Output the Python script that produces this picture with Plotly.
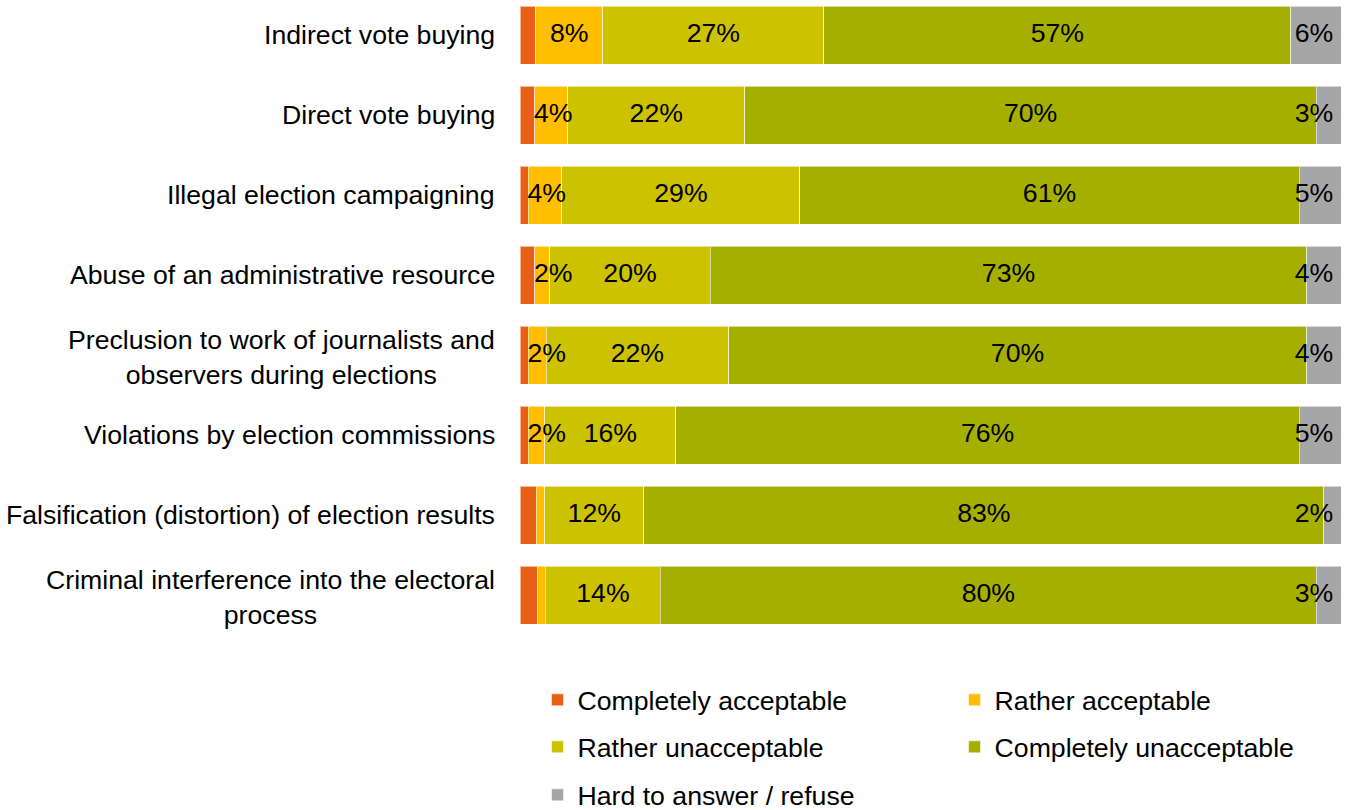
import plotly.graph_objects as go

# Survey categories, top to bottom
categories = [
    "Indirect vote buying",
    "Direct vote buying",
    "Illegal election campaigning",
    "Abuse of an administrative resource",
    "Preclusion to work of journalists and<br>observers during elections",
    "Violations by election commissions",
    "Falsification (distortion) of election results",
    "Criminal interference into the electoral<br>process",
]

# Shares of respondents, % (one list per answer option)
completely_acceptable = [1.9, 1.8, 1.0, 1.8, 1.0, 1.0, 2.0, 2.1]
rather_acceptable = [8.2, 4.0, 4.1, 1.8, 2.2, 2.0, 1.0, 1.0]
rather_unacceptable = [26.9, 21.6, 29.0, 19.6, 22.2, 16.0, 12.1, 14.0]
completely_unacceptable = [56.9, 69.6, 60.8, 72.6, 70.4, 75.9, 82.8, 79.9]
hard_to_answer = [6.1, 3.0, 5.1, 4.2, 4.2, 5.1, 2.1, 3.0]

series_names = [
    "Completely acceptable",
    "Rather acceptable",
    "Rather unacceptable",
    "Completely unacceptable",
    "Hard to answer / refuse",
]
series_values = [
    completely_acceptable,
    rather_acceptable,
    rather_unacceptable,
    completely_unacceptable,
    hard_to_answer,
]
series_colors = ["#E95F17", "#FFBF00", "#CCC200", "#A5AF00", "#A6A6A6"]
series_labelled = [False, True, True, True, True]

FONT = "Liberation Sans, Arial, sans-serif"
FS = 26.67
ypos = list(range(len(categories)))

# Half the width of a two-character label, in axis units, used to keep
# narrow-segment labels from spilling past the bar's start or the chart edge
HALF_LABEL = 2.25
RIGHT_LIMIT = 96.7

fig = go.Figure()

legend_ids = ["legend", "legend2", "legend3", "legend4", "legend5"]
for name, vals, color, leg in zip(series_names, series_values, series_colors, legend_ids):
    fig.add_trace(go.Bar(
        name=name,
        y=ypos,
        x=vals,
        orientation="h",
        marker=dict(color=color, line=dict(color="rgba(255,255,255,0.55)", width=1)),
        hoverinfo="skip",
        legend=leg,
    ))

# Value labels centred on each segment
base = [0.0] * len(categories)
for vals, labelled in zip(series_values, series_labelled):
    xs, ys, txt = [], [], []
    for i, v in enumerate(vals):
        if labelled and v >= 1.5:
            centre = base[i] + v / 2
            centre = min(max(centre, base[i] + HALF_LABEL), RIGHT_LIMIT)
            xs.append(centre)
            ys.append(i)
            txt.append(f"{v:.0f}%")
        base[i] += v
    fig.add_trace(go.Scatter(
        x=xs, y=ys, text=txt, mode="text",
        textfont=dict(family=FONT, size=FS, color="#000000"),
        textposition="middle center",
        cliponaxis=False,
        showlegend=False, hoverinfo="skip",
    ))

# Category labels, right-aligned against the plot, wrapped lines centred
for i, cat in enumerate(categories):
    wrapped = "<br>" in cat
    fig.add_annotation(
        x=0, xref="paper", xshift=-23, xanchor="right",
        y=i, yref="y", yanchor="middle", yshift=-2 if wrapped else 0,
        text=cat, align="center", showarrow=False,
        font=dict(family=FONT, size=FS, color="#000000"),
    )

# Legend laid out as a two-column grid, one legend box per entry
col_x = [0.0213, 0.5293]
row_y = [-0.09375, -0.1672, -0.2422]
grid = [(0, 0), (0, 1), (1, 0), (1, 1), (2, 0)]

legend_boxes = {}
for leg, (r, c) in zip(legend_ids, grid):
    legend_boxes[leg] = dict(
        orientation="h",
        xref="paper", x=col_x[c], xanchor="left",
        y=row_y[r], yanchor="middle",
        font=dict(family=FONT, size=FS, color="#000000"),
        bgcolor="rgba(0,0,0,0)",
        itemclick=False, itemdoubleclick=False,
    )

fig.update_layout(
    width=1349,
    height=810,
    margin=dict(l=520, r=8, t=0, b=170, autoexpand=False),
    paper_bgcolor="white",
    plot_bgcolor="white",
    barmode="stack",
    bargap=0.275,
    showlegend=True,
    xaxis=dict(range=[0, 100], visible=False, fixedrange=True),
    yaxis=dict(range=[7.5625, -0.4375], visible=False, fixedrange=True),
    font=dict(family=FONT),
    **legend_boxes,
)

fig.write_html("out.html")
